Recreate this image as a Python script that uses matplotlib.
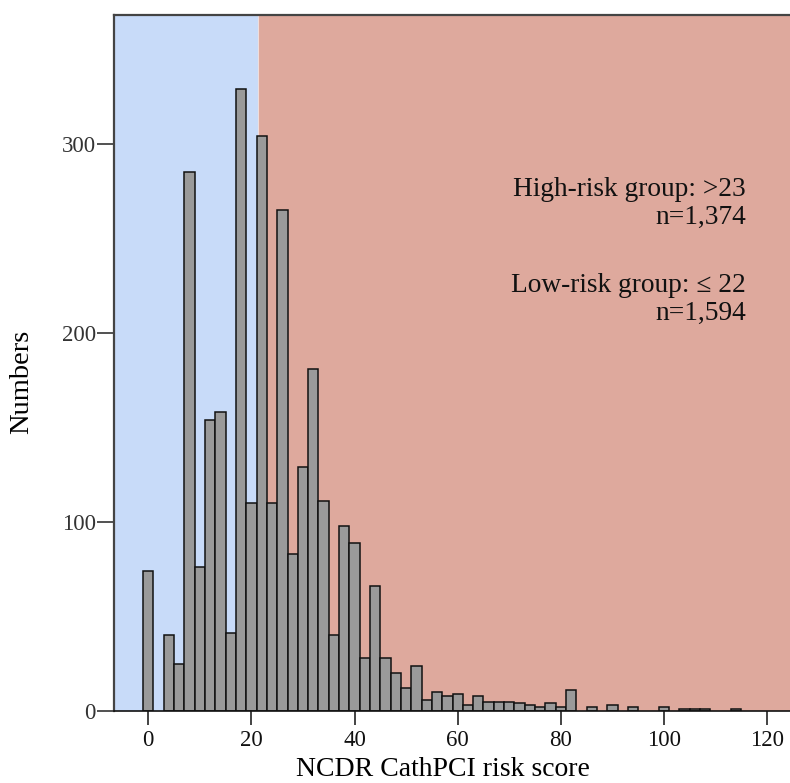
import numpy as np
import matplotlib
matplotlib.use("Agg")
import matplotlib.pyplot as plt

# Data (bin centres, width 2)
bin_centers = [0, 2, 4, 6, 8, 10, 12, 14, 16, 18, 20, 22, 24, 26, 28, 30, 32, 34,
               36, 38, 40, 42, 44, 46, 48, 50, 52, 54, 56, 58, 60, 62, 64, 66, 68,
               70, 72, 74, 76, 78, 80, 82, 84, 86, 88, 90, 92, 94, 96, 98, 100,
               102, 104, 106, 108, 110, 112, 114]
counts = [74, 0, 40, 25, 285, 76, 154, 158, 41, 329, 110, 304, 110, 265, 83, 129, 181, 111,
          40, 98, 89, 28, 66, 28, 20, 12, 24, 6, 10, 8, 9, 3, 8, 5, 5,
          5, 4, 3, 2, 4, 2, 11, 0, 2, 0, 3, 0, 2, 0, 0, 2,
          0, 1, 1, 1, 0, 0, 1]
x_ticks = [0, 20, 40, 60, 80, 100, 120]
y_ticks = [0, 100, 200, 300]
cutoff = 21.2
annotations = ["High-risk group: >23", "n=1,374", "Low-risk group: \u2264 22", "n=1,594"]

plt.rcParams['font.family'] = ['Liberation Serif', 'DejaVu Serif']

fig = plt.figure(figsize=(7.9, 7.83), dpi=100)
ax = fig.add_axes([114/790, (783-711)/783, 676/790, 696/783])

xmin, xmax = -6.65, 124.45
ax.set_xlim(xmin, xmax)
ax.set_ylim(0, 368)

ax.set_facecolor('#DEA99D')
ax.axvspan(xmin, cutoff, color='#C8DBF9', lw=0, zorder=0)
ax.axvline(cutoff, color='#EEDDDD', lw=0.8, zorder=0.5)

bc = np.array(bin_centers, dtype=float)
ct = np.array(counts, dtype=float)
m = ct > 0
ax.bar(bc[m], ct[m], width=2.0, color='#9A9A9A', edgecolor='#111111', linewidth=1.1, zorder=2)

ax.set_xticks(x_ticks)
ax.set_yticks(y_ticks)
ax.tick_params(axis='x', direction='out', length=10, width=1.2, color='#222222',
               labelsize=16.5, pad=4, labelcolor='#111111')
ax.tick_params(axis='y', direction='out', length=12, width=1.2, color='#333333',
               labelsize=16.5, pad=1, labelcolor='#333333')

for s in ['left', 'top', 'bottom']:
    ax.spines[s].set_linewidth(1.6)
    ax.spines[s].set_color('#444444')
ax.spines['bottom'].set_color('#111111')
ax.spines['bottom'].set_linewidth(1.2)
ax.spines['right'].set_visible(False)

ax.set_xlabel("NCDR CathPCI risk score", fontsize=20.0)
ax.set_ylabel("Numbers", fontsize=20.5)
# place labels where the reference has them (pixel centres)
ax.xaxis.set_label_coords((443-114)/676, (711-770)/696)
ax.xaxis.label.set_va('center')
ax.yaxis.set_label_coords((22-114)/676, (711-382)/696)
ax.yaxis.label.set_va('center')

ypix = [189, 217, 285, 313]
for txt, yp in zip(annotations, ypix):
    ax.text((746-114)/676, (711-yp)/696, txt, transform=ax.transAxes,
            ha='right', va='center', fontsize=19.7, color='#111111')

fig.savefig("out.png", dpi=100)
